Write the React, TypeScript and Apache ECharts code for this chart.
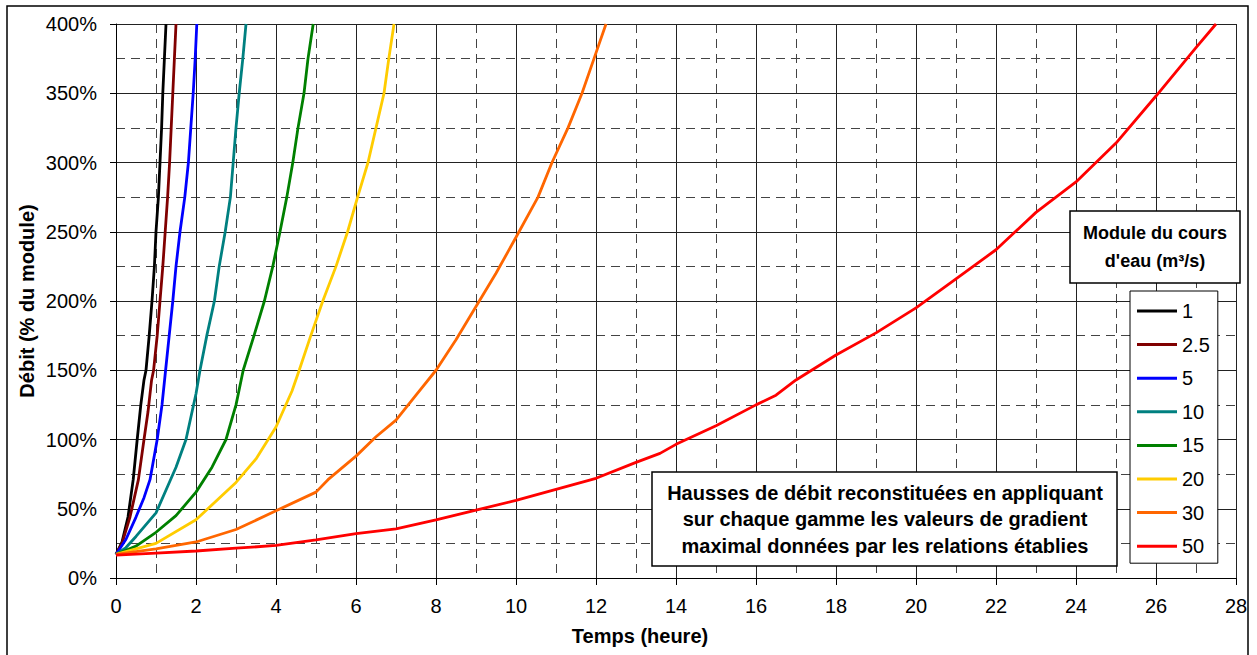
import React, { useEffect, useRef } from "react";
import * as echarts from "echarts";

const FONT = '"Liberation Sans", Arial, sans-serif';

const seriesNames = ["1", "2.5", "5", "10", "15", "20", "30", "50"];
const seriesColors = ["#000000", "#800000", "#0000FF", "#008080", "#008000", "#FFCC00", "#FF6600", "#FF0000"];

const xTicks = [0, 2, 4, 6, 8, 10, 12, 14, 16, 18, 20, 22, 24, 26, 28];
const yTicks = [0, 50, 100, 150, 200, 250, 300, 350, 400];

const q1: [number, number][] = [[0, 17], [0.15, 26], [0.3, 44], [0.43, 71], [0.53, 100], [0.62, 125], [0.7, 143], [0.75, 150], [0.83, 175], [0.9, 200], [0.96, 225], [1.0, 250], [1.06, 275], [1.1, 300], [1.14, 325], [1.17, 350], [1.21, 375], [1.25, 400]];
const q2_5: [number, number][] = [[0, 17], [0.15, 25], [0.35, 44], [0.56, 71], [0.7, 100], [0.8, 120], [0.89, 143], [0.94, 150], [1.03, 175], [1.1, 200], [1.17, 225], [1.23, 250], [1.29, 275], [1.34, 300], [1.38, 325], [1.42, 350], [1.46, 375], [1.5, 400]];
const q5: [number, number][] = [[0, 17], [0.25, 28], [0.5, 44], [0.7, 58], [0.85, 71], [1.03, 100], [1.15, 125], [1.24, 150], [1.33, 175], [1.42, 200], [1.5, 225], [1.6, 250], [1.72, 275], [1.81, 300], [1.87, 325], [1.93, 350], [1.98, 375], [2.02, 400]];
const q10: [number, number][] = [[0, 17], [0.25, 22], [0.5, 30], [1, 47], [1.5, 80], [1.75, 100], [2.0, 133], [2.1, 150], [2.27, 175], [2.46, 200], [2.58, 225], [2.73, 250], [2.86, 275], [2.93, 300], [3.0, 325], [3.08, 350], [3.17, 375], [3.25, 400]];
const q15: [number, number][] = [[0, 17], [0.5, 23], [1, 33], [1.5, 45], [2, 62], [2.4, 80], [2.75, 100], [3.0, 125], [3.18, 150], [3.45, 175], [3.71, 200], [3.92, 225], [4.1, 250], [4.27, 275], [4.42, 300], [4.55, 325], [4.7, 350], [4.8, 375], [4.93, 400]];
const q20: [number, number][] = [[0, 17], [1, 25], [2, 42], [3, 69], [3.5, 86], [4, 109], [4.4, 135], [4.58, 150], [4.87, 175], [5.17, 200], [5.5, 225], [5.79, 250], [6.04, 275], [6.3, 300], [6.5, 325], [6.7, 350], [6.82, 375], [6.95, 400]];
const q30: [number, number][] = [[0, 17], [1, 21], [2, 26], [3, 35], [4, 48.5], [5, 62], [5.3, 71], [6, 88], [6.5, 102], [7, 114], [7.5, 132], [8, 150], [8.5, 172], [9, 196], [9.5, 220], [10, 246], [10.55, 275], [10.9, 300], [11.3, 325], [11.65, 350], [11.95, 375], [12.25, 400]];
const q50: [number, number][] = [[0, 16.5], [1, 18], [2, 19.5], [3, 21.5], [4, 23.5], [5, 27.5], [6, 32], [7, 35.5], [8, 42], [9, 49], [10, 56], [11, 64], [12, 72], [13, 83.5], [13.6, 90], [14, 96.5], [15, 110], [16, 125], [16.5, 132], [17, 143], [18, 161], [19, 177], [20, 195], [21, 216], [22, 237], [23, 264], [24, 286], [25, 314], [26, 348], [27, 383], [27.5, 400]];

const seriesData = [q1, q2_5, q5, q10, q15, q20, q30, q50];

const annotationLines = [
  "Hausses de débit reconstituées en appliquant",
  "sur chaque gamme les valeurs de gradient",
  "maximal données par les relations établies",
];
const legendTitleLines = ["Module du cours", "d'eau (m³/s)"];

export default function App() {
  const ref = useRef<HTMLDivElement>(null);
  useEffect(() => {
    if (!ref.current) return;
    const chart = echarts.init(ref.current, undefined, { renderer: "svg" });
    const option: any = {
      animation: false,
      backgroundColor: "#fff",
      textStyle: { fontFamily: FONT },
      grid: { left: 116, top: 24, right: 21, bottom: 77, containLabel: false },
      xAxis: [
        {
          type: "value", min: 0, max: 28, interval: 2,
          axisLine: { show: true, onZero: false, lineStyle: { color: "#000", width: 1 } },
          axisTick: { show: true, length: 7, lineStyle: { color: "#000" } },
          axisLabel: { color: "#000", fontSize: 20, fontFamily: FONT, margin: 18,
            formatter: (v: number) => (xTicks.includes(v) ? String(v) : "") },
          splitLine: { show: true, lineStyle: { color: "#222", width: 1, type: "solid" } },
          z: 3,
        },
        {
          type: "value", min: 0, max: 28, interval: 1, position: "top",
          axisLine: { show: false }, axisTick: { show: false }, axisLabel: { show: false },
          splitLine: { show: true, lineStyle: { color: "#444", width: 1, type: [9, 6] } },
        },
      ],
      yAxis: [
        {
          type: "value", min: 0, max: 400, interval: 50,
          axisLine: { show: true, onZero: false, lineStyle: { color: "#000", width: 1 } },
          axisTick: { show: true, length: 6, lineStyle: { color: "#000" } },
          axisLabel: { color: "#000", fontSize: 20, fontFamily: FONT, margin: 19,
            formatter: (v: number) => (yTicks.includes(v) ? v + "%" : "") },
          splitLine: { show: true, lineStyle: { color: "#222", width: 1, type: "solid" } },
          z: 3,
        },
        {
          type: "value", min: 0, max: 400, interval: 25, position: "right",
          axisLine: { show: false }, axisTick: { show: false }, axisLabel: { show: false },
          splitLine: { show: true, lineStyle: { color: "#444", width: 1, type: [9, 6] } },
        },
      ],
      legend: {
        orient: "vertical",
        left: 1130, top: 291,
        icon: "rect",
        itemWidth: 40, itemHeight: 3, itemGap: 13.6,
        padding: [10, 8, 7, 7],
        borderColor: "#000", borderWidth: 1, backgroundColor: "#fff",
        textStyle: { fontSize: 20, color: "#000", fontFamily: FONT },
        data: seriesNames,
        z: 20,
      },
      series: seriesNames.map((n, i) => ({
        name: n,
        type: "line",
        xAxisIndex: 0, yAxisIndex: 0,
        data: seriesData[i],
        symbol: "none",
        smooth: false,
        clip: true,
        lineStyle: { color: seriesColors[i], width: 2.8 },
        itemStyle: { color: seriesColors[i] },
        z: 5,
      })),
      graphic: [
        { type: "rect", z: 0, silent: true, shape: { x: 7, y: 6, width: 1241, height: 700 },
          style: { fill: "none", stroke: "#000", lineWidth: 1.5 } },
        { type: "text", z: 50, x: 27, y: 301, rotation: Math.PI / 2,
          style: { text: "Débit (% du module)", fontSize: 20, fontWeight: "bold", fontFamily: FONT,
            fill: "#000", textAlign: "center", textVerticalAlign: "middle" } },
        { type: "text", z: 50, x: 640, y: 636,
          style: { text: "Temps (heure)", fontSize: 20, fontWeight: "bold", fontFamily: FONT,
            fill: "#000", textAlign: "center", textVerticalAlign: "middle" } },
        { type: "rect", z: 40, shape: { x: 652, y: 472, width: 465, height: 94 },
          style: { fill: "#fff", stroke: "#000", lineWidth: 1.5 } },
        { type: "text", z: 41, x: 885, y: 519,
          style: { text: annotationLines.join("\n"), fontSize: 20, fontWeight: "bold", fontFamily: FONT,
            lineHeight: 26.5, fill: "#000", textAlign: "center", textVerticalAlign: "middle" } },
        { type: "rect", z: 40, shape: { x: 1070, y: 211, width: 170, height: 72 },
          style: { fill: "#fff", stroke: "#000", lineWidth: 1.5 } },
        { type: "text", z: 41, x: 1155, y: 247,
          style: { text: legendTitleLines.join("\n"), fontSize: 18, fontWeight: "bold", fontFamily: FONT,
            lineHeight: 28, fill: "#000", textAlign: "center", textVerticalAlign: "middle" } },
      ],
    };
    chart.setOption(option);
    return () => chart.dispose();
  }, []);
  return (
    <div
      ref={ref}
      style={{ position: "fixed", left: 0, top: 0, width: 1257, height: 655, background: "#fff" }}
    />
  );
}
